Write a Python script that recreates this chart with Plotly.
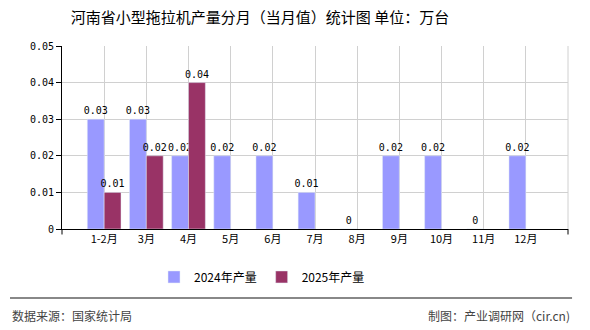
import plotly.graph_objects as go

categories = ["1-2月", "3月", "4月", "5月", "6月", "7月", "8月", "9月", "10月", "11月", "12月"]
values_2024 = [0.03, 0.03, 0.02, 0.02, 0.02, 0.01, 0, 0.02, 0.02, 0, 0.02]
values_2025 = [0.01, 0.02, 0.04, None, None, None, None, None, None, None, None]
y_ticks = [0, 0.01, 0.02, 0.03, 0.04, 0.05]
y_tick_labels = ["0", "0.01", "0.02", "0.03", "0.04", "0.05"]

FONT = "Noto Sans CJK SC"
MONO = "DejaVu Sans Mono"

def lab(vals):
    return ["" if v is None else ("0" if v == 0 else f"{v:.2f}") for v in vals]

fig = go.Figure()
fig.add_trace(go.Bar(
    name="2024年产量", x=categories, y=values_2024, marker_color="#9999FF",
    text=lab(values_2024), textposition="outside", cliponaxis=False,
    constraintext="none", textangle=0,
    textfont=dict(size=10, color="#000000", family=MONO),
))
fig.add_trace(go.Bar(
    name="2025年产量", x=categories, y=values_2025, marker_color="#993366",
    text=lab(values_2025), textposition="outside", cliponaxis=False,
    constraintext="none", textangle=0,
    textfont=dict(size=10, color="#000000", family=MONO),
))

fig.update_layout(
    width=590, height=330,
    margin=dict(l=62, r=22, t=46, b=101),
    paper_bgcolor="white", plot_bgcolor="white",
    barmode="group", bargap=0.2, bargroupgap=0,
    font=dict(family=FONT, size=11, color="#000000"),
    title=dict(text="河南省小型拖拉机产量分月（当月值）统计图 单位：万台",
               x=260 / 590, xanchor="center", y=1 - 18 / 330, yanchor="middle",
               xref="container", yref="container",
               font=dict(size=15, color="#000000", family=FONT)),
    legend=dict(orientation="h", x=(262 - 62) / 506, xanchor="center", y=-0.262, yanchor="middle",
                font=dict(size=12, color="#000000", family=FONT), tracegroupgap=0),
    showlegend=True,
)
fig.update_xaxes(
    type="category", range=[-1, 11], showline=True, linecolor="#000000", linewidth=1,
    showgrid=True, gridcolor="#d0d0d0", gridwidth=1, ticks="", mirror=False,
    tickfont=dict(size=11, color="#000000", family=FONT),
)
fig.update_yaxes(
    range=[0, 0.05], tickvals=y_ticks, ticktext=y_tick_labels,
    showline=True, linecolor="#000000", linewidth=1, ticks="outside", ticklen=5,
    tickcolor="#000000", showgrid=True, gridcolor="#d0d0d0", gridwidth=1,
    zeroline=False, tickfont=dict(size=10, color="#000000", family=MONO),
)

# plot frame (right gridline-like border) and end ticks of x axis
fig.add_shape(type="line", xref="paper", yref="paper", x0=1, x1=1, y0=0, y1=1,
              line=dict(color="#d0d0d0", width=1))
for xp in (0, 1):
    fig.add_shape(type="line", xref="paper", yref="paper", x0=xp, x1=xp, y0=0, y1=-0.03,
                  line=dict(color="#000000", width=1))

# footer
fig.add_shape(type="line", xref="paper", yref="paper", x0=-52 / 506, x1=1.008,
              y0=-0.377, y1=-0.377, line=dict(color="#888888", width=2))
fig.add_annotation(text="数据来源：国家统计局", xref="paper", yref="paper",
                   x=-52 / 506, xanchor="left", y=-0.475, yanchor="middle", showarrow=False,
                   font=dict(size=12, color="#444444", family=FONT))
fig.add_annotation(text="制图：产业调研网（cir.cn)", xref="paper", yref="paper",
                   x=1.008, xanchor="right", y=-0.475, yanchor="middle", showarrow=False,
                   font=dict(size=12, color="#444444", family=FONT))

fig.write_html("out.html")
